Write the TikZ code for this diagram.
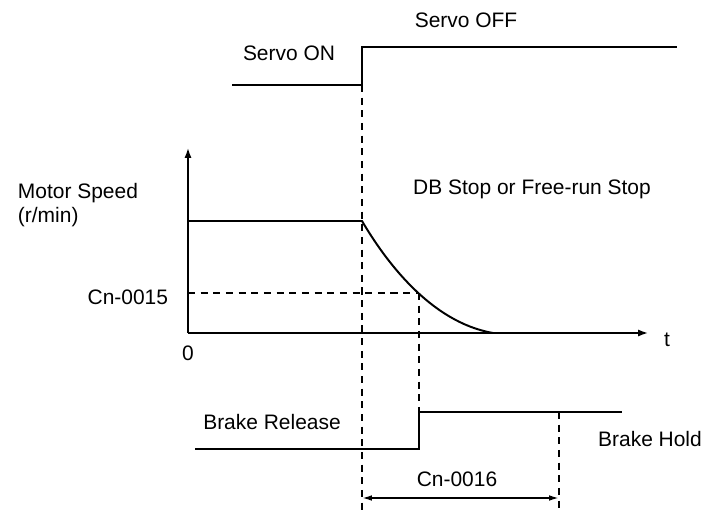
\documentclass[tikz,border=0pt]{standalone}
\usepackage{fontspec}
\setmainfont{Liberation Sans}
\usetikzlibrary{arrows.meta}

\begin{document}
\begin{tikzpicture}[x=0.025cm, y=-0.025cm, font=\fontsize{14.9}{17}\selectfont,
  sig/.style={line width=1.4pt},
  guide/.style={line width=1.2pt, dash pattern=on 5pt off 4pt},
  axis/.style={line width=1.1pt, -{Latex[length=7pt,width=5pt]}}]
\useasboundingbox (0,0) rectangle (702,510);
% servo signal
\coordinate (s0) at (232,85);
\coordinate (s1) at (362,85);
\coordinate (s2) at (362,47);
\coordinate (s3) at (677,47);
\draw[sig] (s0) -- (s1) -- (s2) -- (s3);
\node (son) at (289,53) {Servo ON};
\node (soff) at (466,20) {Servo OFF};
% speed axes
\coordinate (o) at (188,333);
\coordinate (ytop) at (188,148);
\coordinate (xend) at (648,333);
\draw[axis] (o) -- (ytop);
\draw[axis] (o) -- (xend);
\node (zero) at (188,353) {0};
\node (t) at (667,340) {t};
\node[anchor=west, align=left] (speed) at (13,205) {Motor Speed\\(r/min)};
% speed curve
\coordinate (v0) at (188,221);
\coordinate (v1) at (362,221);
\coordinate (v2) at (493,333);
\draw[sig] (v0) -- (v1) .. controls (385,260) and (430,322) .. (v2);
\node (db) at (532,189) {DB Stop or Free-run Stop};
% Cn-0015 level
\coordinate (l0) at (188,293);
\coordinate (l1) at (419,293);
\draw[guide] (l0) -- (l1);
\node[anchor=east] (cn15) at (173,297) {Cn-0015};
% brake signal
\coordinate (b0) at (195,449);
\coordinate (b1) at (419,449);
\coordinate (b2) at (419,412);
\coordinate (b3) at (622,412);
\draw[sig] (b0) -- (b1) -- (b2) -- (b3);
\draw[guide] (l1) -- (b2);
\node (release) at (272,422) {Brake Release};
\node (hold) at (650,439) {Brake Hold};
% timing guides
\coordinate (g0) at (362,510);
\coordinate (h0) at (559,412);
\coordinate (h1) at (559,510);
\draw[guide] (s1) -- (g0);
\draw[guide] (h0) -- (h1);
\coordinate (a0) at (362,498);
\coordinate (a1) at (559,498);
\draw[line width=1.2pt, {Latex[length=7pt,width=4pt]}-{Latex[length=7pt,width=4pt]}] (a0) -- (a1);
\node (cn16) at (457,479) {Cn-0016};
\end{tikzpicture}
\end{document}
